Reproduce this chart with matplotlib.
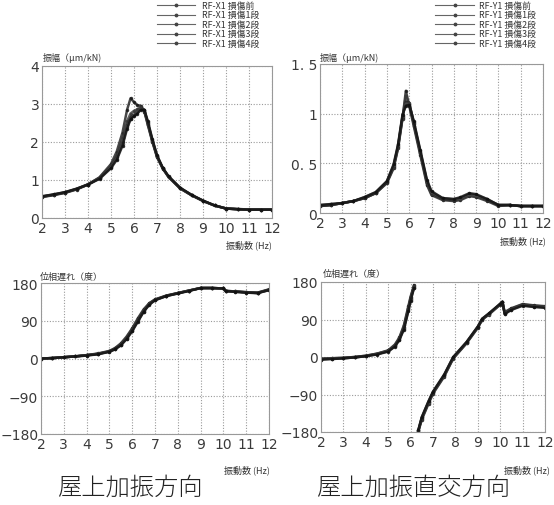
import numpy as np
import matplotlib
matplotlib.use("Agg")
import matplotlib.pyplot as plt
from matplotlib.lines import Line2D

plt.rcParams['font.family'] = ['DejaVu Sans', 'Noto Sans CJK JP']

# ---------------- data ----------------
series_x = ["RF-X1 損傷前", "RF-X1 損傷1段", "RF-X1 損傷2段", "RF-X1 損傷3段", "RF-X1 損傷4段"]
series_y = ["RF-Y1 損傷前", "RF-Y1 損傷1段", "RF-Y1 損傷2段", "RF-Y1 損傷3段", "RF-Y1 損傷4段"]

# roof, excitation direction: amplitude (μm/kN)
freq_amp_x = [2, 2.5, 3, 3.5, 4, 4.5, 5, 5.25, 5.5, 5.7, 5.85, 6.0, 6.15, 6.3, 6.45, 6.6,
              6.8, 7.0, 7.25, 7.5, 8.0, 8.5, 9.0, 9.5, 10.0, 10.5, 11.0, 11.5, 12.0]
amp_x = [
    [0.55, 0.60, 0.66, 0.75, 0.88, 1.07, 1.42, 1.75, 2.25, 2.85, 3.15, 3.05, 2.97, 2.95, 2.80, 2.45,
     2.00, 1.60, 1.30, 1.08, 0.78, 0.60, 0.45, 0.33, 0.25, 0.24, 0.22, 0.22, 0.22],
    [0.56, 0.61, 0.67, 0.76, 0.89, 1.06, 1.38, 1.65, 2.10, 2.55, 2.75, 2.82, 2.86, 2.93, 2.82, 2.48,
     2.02, 1.62, 1.31, 1.08, 0.78, 0.60, 0.45, 0.33, 0.25, 0.23, 0.22, 0.22, 0.22],
    [0.56, 0.61, 0.67, 0.76, 0.88, 1.05, 1.35, 1.60, 2.00, 2.45, 2.65, 2.72, 2.80, 2.90, 2.83, 2.50,
     2.03, 1.63, 1.31, 1.09, 0.79, 0.60, 0.45, 0.33, 0.25, 0.23, 0.22, 0.22, 0.22],
    [0.57, 0.62, 0.68, 0.77, 0.88, 1.04, 1.33, 1.56, 1.95, 2.40, 2.60, 2.70, 2.78, 2.88, 2.84, 2.52,
     2.05, 1.64, 1.32, 1.09, 0.79, 0.61, 0.45, 0.33, 0.25, 0.23, 0.22, 0.22, 0.22],
    [0.57, 0.62, 0.68, 0.77, 0.88, 1.03, 1.31, 1.53, 1.90, 2.35, 2.60, 2.68, 2.75, 2.85, 2.85, 2.55,
     2.07, 1.65, 1.32, 1.10, 0.80, 0.61, 0.46, 0.33, 0.25, 0.23, 0.22, 0.22, 0.22],
]

# roof, orthogonal direction: amplitude (μm/kN)
freq_amp_y = [2, 2.5, 3, 3.5, 4, 4.5, 5, 5.3, 5.5, 5.7, 5.85, 6.0, 6.2, 6.5, 6.8, 7.0,
              7.5, 8.0, 8.3, 8.7, 9.0, 9.5, 10.0, 10.5, 11.0, 11.5, 12.0]
amp_y = [
    [0.07, 0.08, 0.10, 0.12, 0.15, 0.20, 0.30, 0.45, 0.65, 0.95, 1.23, 1.08, 0.88, 0.58, 0.28, 0.18,
     0.13, 0.12, 0.13, 0.17, 0.16, 0.12, 0.07, 0.08, 0.07, 0.07, 0.07],
    [0.07, 0.08, 0.10, 0.12, 0.15, 0.20, 0.31, 0.46, 0.66, 0.96, 1.18, 1.10, 0.90, 0.60, 0.30, 0.19,
     0.14, 0.13, 0.14, 0.18, 0.17, 0.13, 0.08, 0.08, 0.07, 0.07, 0.07],
    [0.07, 0.08, 0.10, 0.12, 0.15, 0.20, 0.31, 0.47, 0.67, 0.97, 1.12, 1.11, 0.91, 0.61, 0.31, 0.20,
     0.14, 0.13, 0.15, 0.19, 0.18, 0.13, 0.08, 0.08, 0.07, 0.07, 0.07],
    [0.08, 0.09, 0.10, 0.12, 0.16, 0.21, 0.32, 0.48, 0.68, 0.98, 1.10, 1.10, 0.92, 0.62, 0.32, 0.21,
     0.15, 0.14, 0.15, 0.19, 0.18, 0.14, 0.08, 0.08, 0.07, 0.07, 0.07],
    [0.08, 0.09, 0.10, 0.12, 0.16, 0.21, 0.32, 0.49, 0.69, 0.99, 1.08, 1.09, 0.93, 0.63, 0.33, 0.22,
     0.15, 0.14, 0.16, 0.20, 0.19, 0.14, 0.08, 0.08, 0.07, 0.07, 0.07],
]

# roof, excitation direction: phase lag (deg)
freq_ph_x = [2, 2.5, 3, 3.5, 4, 4.5, 5, 5.25, 5.5, 5.75, 6.0, 6.25, 6.5, 6.75, 7.0, 7.5,
             8.0, 8.5, 9.0, 9.5, 10.0, 10.1, 10.5, 11.0, 11.5, 12.0]
ph_x = [
    [0, 1, 3, 5, 8, 12, 18, 25, 36, 52, 72, 96, 117, 132, 141, 150, 156, 162, 168, 168, 167, 161, 160, 158, 157, 165],
    [0, 1, 3, 5, 8, 11, 17, 24, 34, 50, 70, 93, 115, 131, 140, 150, 156, 162, 168, 168, 167, 161, 160, 158, 157, 164],
    [0, 1, 3, 5, 8, 11, 17, 23, 33, 48, 68, 91, 113, 130, 140, 149, 156, 162, 168, 168, 167, 161, 160, 158, 156, 164],
    [0, 1, 3, 5, 7, 11, 16, 22, 32, 47, 66, 89, 112, 129, 139, 149, 155, 162, 168, 168, 167, 161, 159, 157, 156, 163],
    [0, 1, 3, 5, 7, 10, 16, 22, 31, 46, 65, 88, 111, 128, 139, 149, 155, 161, 168, 168, 167, 161, 159, 157, 156, 163],
]

# roof, orthogonal direction: phase lag (deg); nan marks the wrap from +180 to -180
freq_ph_y = [2, 2.5, 3, 3.5, 4, 4.5, 5, 5.3, 5.5, 5.7, 5.9, 6.0, 6.15, 6.25, 6.35, 6.5, 6.8,
             7.0, 7.5, 7.9, 8.5, 9.0, 9.2, 9.5, 10.0, 10.1, 10.2, 10.5, 11.0, 11.5, 12.0]
ph_y = [
    [-4, -3, -2, 0, 3, 8, 16, 30, 47, 76, 122, 145, 172, np.nan, -178, -150, -112,
     -88, -47, -4, 33, 70, 90, 102, 126, 131, 108, 117, 127, 124, 122],
    [-5, -3, -2, 0, 3, 8, 15, 28, 45, 73, 118, 142, 170, np.nan, -177, -148, -110,
     -86, -45, -3, 34, 71, 90, 103, 126, 131, 106, 116, 126, 123, 121],
    [-5, -4, -3, -1, 2, 7, 14, 27, 43, 70, 115, 140, 168, np.nan, -176, -146, -108,
     -85, -44, -2, 35, 72, 91, 104, 127, 132, 105, 115, 125, 122, 120],
    [-6, -4, -3, -1, 2, 7, 14, 26, 42, 68, 112, 137, 166, np.nan, -175, -145, -107,
     -84, -43, -1, 36, 73, 92, 104, 127, 132, 104, 114, 124, 121, 119],
    [-6, -5, -3, -1, 2, 6, 13, 25, 41, 66, 110, 135, 165, np.nan, -174, -144, -106,
     -83, -42, 0, 36, 73, 92, 105, 128, 133, 103, 113, 123, 120, 118],
]

x_ticks = list(range(2, 13))
amp_x_ticks = [0, 1, 2, 3, 4]
amp_y_ticks = [0, 0.5, 1, 1.5]
amp_y_ticklabels = ["0", "0. 5", "1", "1. 5"]
phase_ticks = [-180, -90, 0, 90, 180]

# ---------------- figure ----------------
W, H = 554, 506
fig = plt.figure(figsize=(W / 100, H / 100), dpi=100)

def fx(px):
    return px / W

def fy(py):
    return 1 - py / H

def make_axes(left, top, right, bottom):
    return fig.add_axes([fx(left), fy(bottom), fx(right) - fx(left), fy(top) - fy(bottom)])

line_colors = ['#1a1a1a', '#3a3a3a', '#2a2a2a', '#4a4a4a', '#111111']

def style(ax, yticks, ylabels=None, ylim=None):
    ax.set_xlim(2, 12)
    ax.set_ylim(*ylim)
    ax.set_xticks(x_ticks)
    ax.set_yticks(yticks)
    if ylabels is not None:
        ax.set_yticklabels(ylabels)
    ax.grid(True, color='#9a9a9a', linestyle=(0, (1, 1.5)), linewidth=0.8)
    ax.tick_params(length=0, labelsize=10, colors='#3a3a3a', pad=2)
    for sp in ax.spines.values():
        sp.set_color('#999999')
        sp.set_linewidth(0.8)

def draw(ax, freq, data):
    for i, ys in enumerate(data):
        ax.plot(freq, ys, color=line_colors[i], linewidth=1.8, marker='.',
                markersize=3, alpha=0.8)

small = dict(family=['Noto Sans CJK JP', 'DejaVu Sans'], fontsize=6.5, color='#333333')

# top-left: amplitude, excitation direction
ax1 = make_axes(42, 67, 272, 219)
draw(ax1, freq_amp_x, amp_x)
style(ax1, amp_x_ticks, ylim=(0, 4))

# top-right: amplitude, orthogonal direction
ax2 = make_axes(320, 65, 543, 214)
draw(ax2, freq_amp_y, amp_y)
style(ax2, amp_y_ticks, amp_y_ticklabels, ylim=(0, 1.5))

# bottom-left: phase, excitation direction
ax3 = make_axes(41, 284, 269, 435)
draw(ax3, freq_ph_x, ph_x)
style(ax3, phase_ticks, ylim=(-180, 180))

# bottom-right: phase, orthogonal direction
ax4 = make_axes(321, 283, 545, 433)
draw(ax4, freq_ph_y, ph_y)
style(ax4, phase_ticks, ylim=(-180, 180))

# legends: short gray line with a centre marker, then the series name
def legend_block(labels, x0, x1, xt, y0, dy):
    for i, lab in enumerate(labels):
        y = fy(y0 + i * dy)
        fig.add_artist(Line2D([fx(x0), fx(x1)], [y, y], transform=fig.transFigure,
                              color='#666666', linewidth=0.8))
        fig.add_artist(Line2D([fx((x0 + x1) / 2)], [y], transform=fig.transFigure,
                              color='#444444', marker='.', markersize=3.5, linestyle='none'))
        fig.text(fx(xt), y, lab, ha='left', va='center',
                 family=['Noto Sans CJK JP', 'DejaVu Sans'], fontsize=6.4, color='#333333')

legend_block(series_x, 157, 195, 202, 6, 9.6)
legend_block(series_y, 435, 474, 479, 6, 9.6)

# axis titles
fig.text(fx(43), fy(58), "振幅（μm/kN)", ha='left', va='center', **small)
fig.text(fx(320), fy(58), "振幅（μm/kN)", ha='left', va='center', **small)
fig.text(fx(40), fy(277), "位相遅れ（度）", ha='left', va='center', **small)
fig.text(fx(323), fy(274), "位相遅れ（度）", ha='left', va='center', **small)

for (rx, ry) in ((272, 245), (546, 241), (270, 470), (550, 470)):
    fig.text(fx(rx), fy(ry), "振動数 (Hz)", ha='right', va='center', **small)

# captions
cap = dict(family=['Noto Sans CJK JP', 'DejaVu Sans'], fontsize=17.5, color='#222222',
           fontweight='light')
fig.text(fx(130), fy(488), "屋上加振方向", ha='center', va='center', **cap)
fig.text(fx(413), fy(488), "屋上加振直交方向", ha='center', va='center', **cap)

fig.savefig("out.png", dpi=100)
